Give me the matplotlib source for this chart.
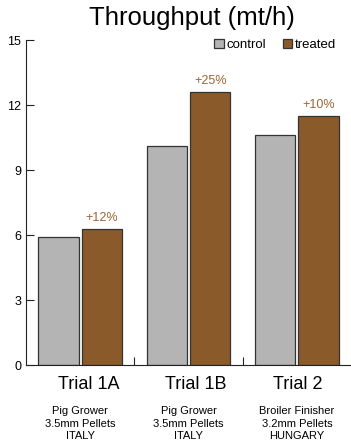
#!/usr/bin/env python3
"""Throughput (mt/h): control vs treated across three pelleting trials."""
import matplotlib

matplotlib.use("Agg")
import matplotlib.pyplot as plt  # noqa: E402
import numpy as np  # noqa: E402

trials = ["Trial 1A", "Trial 1B", "Trial 2"]
feeds = ["Pig Grower", "Pig Grower", "Broiler Finisher"]
pellets = ["3.5mm Pellets", "3.5mm Pellets", "3.2mm Pellets"]
countries = ["ITALY", "ITALY", "HUNGARY"]
control = [5.9, 10.1, 10.6]
treated = [6.3, 12.6, 11.5]
gains = ["+12%", "+25%", "+10%"]
yticks = [0, 3, 6, 9, 12, 15]

C_CTRL = "#b4b4b4"
C_TRT = "#8b5a2b"
C_GAIN = "#9c6535"
EDGE = "#333333"
# heading nudges (points) - the original headings sit a bit right of the groups
HEAD_DX = [6.5, 5, 1]

plt.rcParams["font.family"] = ["Liberation Sans", "DejaVu Sans"]


def main():
    fig = plt.figure(figsize=(3.51, 4.42), dpi=100)
    ax = fig.add_axes([0.074, 0.174, 0.926, 0.7353])

    x = np.arange(len(trials))
    w = 0.37
    ax.bar(x - 0.2, control, w, color=C_CTRL, edgecolor=EDGE, linewidth=0.9, label="control")
    ax.bar(x + 0.2, treated, w, color=C_TRT, edgecolor=EDGE, linewidth=0.9, label="treated")

    for xi, v, g in zip(x, treated, gains):
        ax.annotate(g, (xi + 0.2, v), xytext=(0, 5.8), textcoords="offset points",
                    ha="center", va="baseline", fontsize=9, color=C_GAIN)

    ax.set_xlim(-0.5, 2.5)
    ax.set_ylim(0, 15)
    ax.set_yticks(yticks)
    ax.set_xticks([0.5, 1.5])
    ax.set_xticklabels([])
    ax.tick_params(axis="both", direction="in", length=5.8, width=0.8, color="#222222")
    ax.tick_params(axis="y", labelsize=9, pad=3.5)
    for s in ("top", "right"):
        ax.spines[s].set_visible(False)
    ax.spines["left"].set_bounds(0, 15)
    for s in ("left", "bottom"):
        ax.spines[s].set_linewidth(0.8)
        ax.spines[s].set_color("#222222")

    tr = ax.get_xaxis_transform()
    for xi, t, f, p, c, dx in zip(x, trials, feeds, pellets, countries, HEAD_DX):
        ax.annotate(t, (xi, -0.0738), xycoords=tr, xytext=(dx, 0), textcoords="offset points",
                    ha="center", va="baseline", fontsize=13)
        for k, line in enumerate([f, p, c]):
            ax.text(xi, -0.1515 - k * 0.0385, line, transform=tr, ha="center",
                    va="baseline", fontsize=8)

    ax.legend(loc="center right", bbox_to_anchor=(0.954, 0.985), ncol=2, frameon=False,
              fontsize=9.5, borderaxespad=0, borderpad=0, handlelength=0.7,
              handleheight=0.7, handletextpad=0.2, columnspacing=1.3)

    fig.text(0.548, 1 - 25 / 442, "Throughput (mt/h)", ha="center", va="baseline",
             fontsize=18.5)

    fig.savefig("out.png", dpi=100)
    plt.close(fig)


if __name__ == "__main__":
    main()
